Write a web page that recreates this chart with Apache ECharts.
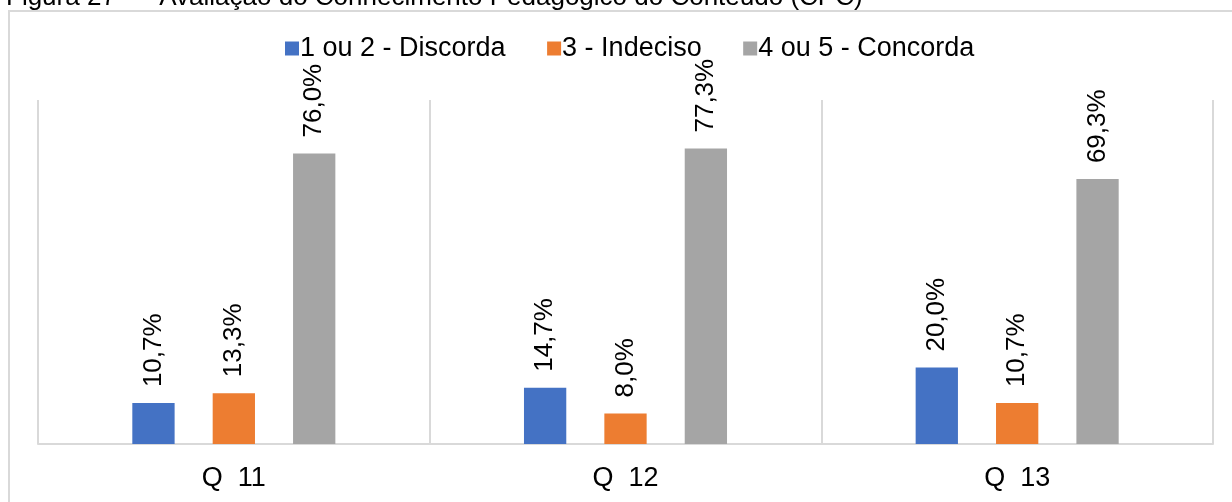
<!DOCTYPE html>
<html>
<head>
<meta charset="utf-8">
<script src="https://cdn.jsdelivr.net/npm/echarts@6/dist/echarts.min.js"></script>
<style>
html,body{margin:0;padding:0;background:#fff;}
#chart{width:1232px;height:502px;}
</style>
</head>
<body>
<div id="chart"></div>
<script>
const titleText = 'Figura 27  –  Avaliação do Conhecimento Pedagógico do Conteúdo (CPC)';
const categories = ['Q  11', 'Q  12', 'Q  13'];
const seriesNames = ['1 ou 2 - Discorda', '3 - Indeciso', '4 ou 5 - Concorda'];
const discorda = [10.7, 14.7, 20.0];
const indeciso = [13.3, 8.0, 10.7];
const concorda = [76.0, 77.3, 69.3];
const colors = ['#4472C4', '#ED7D31', '#A5A5A5'];

const FONT = '"Liberation Sans", Arial, sans-serif';
const chart = echarts.init(document.getElementById('chart'), null, {renderer: 'canvas'});

function makeSeries(name, data, color) {
  return {
    name: name,
    type: 'bar',
    data: data,
    barWidth: '10.8%',
    barGap: '90%',
    itemStyle: {color: color},
    label: {
      show: true,
      position: 'top',
      rotate: 90,
      align: 'left',
      verticalAlign: 'middle',
      distance: 16,
      fontSize: 26,
      fontFamily: FONT,
      color: '#000',
      formatter: p => p.value.toFixed(1).replace('.', ',') + '%'
    }
  };
}

chart.setOption({
  animation: false,
  backgroundColor: '#fff',
  color: colors,
  graphic: [
    {
      type: 'rect',
      z: -10,
      shape: {x: 9, y: 11, width: 1400, height: 700},
      style: {fill: 'none', stroke: '#d9d9d9', lineWidth: 2}
    },
    {
      type: 'text',
      x: 6,
      y: -2,
      style: {
        text: titleText,
        fontSize: 26,
        fontFamily: FONT,
        fill: '#000',
        verticalAlign: 'middle',
        align: 'left'
      }
    }
  ],
  legend: {
    left: 285,
    top: 35,
    padding: 0,
    itemWidth: 14,
    itemHeight: 14,
    itemGap: 41.5,
    icon: 'rect',
    textStyle: {fontSize: 27, fontFamily: FONT, color: '#000', lineHeight: 27, padding: [0, 0, 0, -4]},
    data: seriesNames
  },
  grid: {left: 38, right: 19, top: 100, bottom: 58, containLabel: false},
  xAxis: {
    type: 'category',
    data: categories,
    axisLine: {show: true, lineStyle: {color: '#d9d9d9', width: 2}},
    axisTick: {show: false},
    splitLine: {show: true, lineStyle: {color: '#d9d9d9', width: 2}},
    axisLabel: {fontSize: 27, fontFamily: FONT, color: '#000', margin: 21, lineHeight: 27}
  },
  yAxis: {
    type: 'value',
    min: 0,
    max: 90,
    show: false,
    splitLine: {show: false}
  },
  series: [
    makeSeries(seriesNames[0], discorda, colors[0]),
    makeSeries(seriesNames[1], indeciso, colors[1]),
    makeSeries(seriesNames[2], concorda, colors[2])
  ]
});
</script>
</body>
</html>
